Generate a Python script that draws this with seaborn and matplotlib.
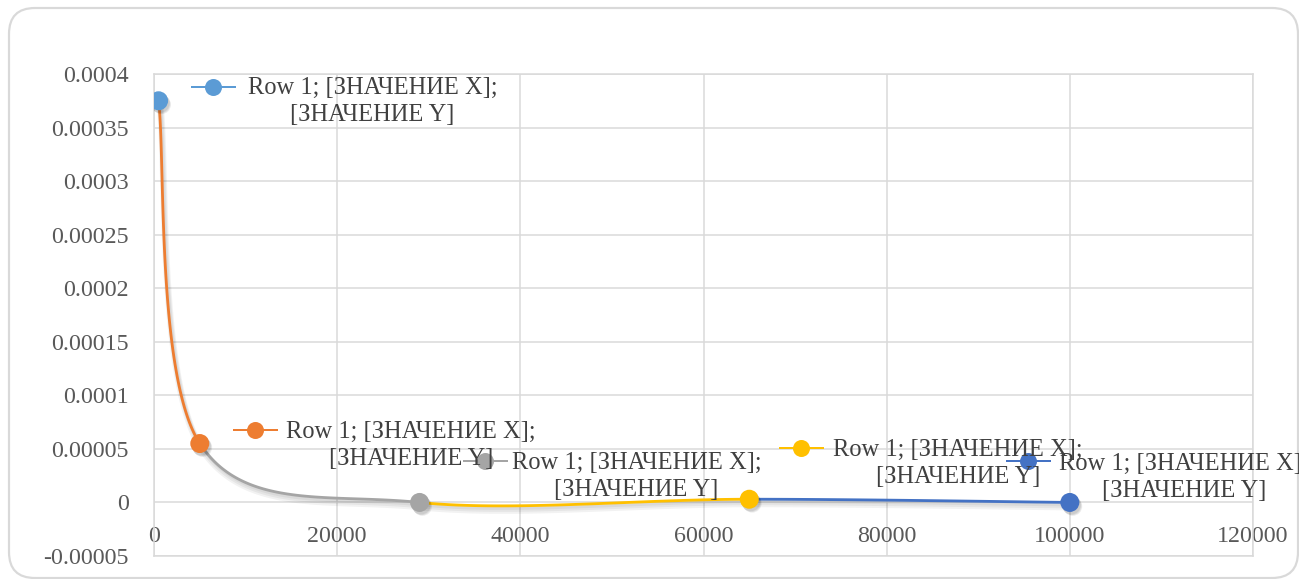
import numpy as np
import pandas as pd
import seaborn as sns
import matplotlib
matplotlib.use("Agg")
import matplotlib.pyplot as plt
import matplotlib.patheffects as pe
from matplotlib.patches import FancyBboxPatch
from matplotlib.transforms import IdentityTransform, offset_copy
from matplotlib.ticker import FuncFormatter

# ---- data -------------------------------------------------------------
x_values = [500, 5000, 29000, 65000, 100000]
y_values = [0.000375, 0.000055, 0.0, 0.000003, 0.0]
point_colors = ["#5B9BD5", "#ED7D31", "#A5A5A5", "#FFC000", "#4472C4"]
label_text = "Row 1; [ЗНАЧЕНИЕ X];\n[ЗНАЧЕНИЕ Y]"
x_ticks = [0, 20000, 40000, 60000, 80000, 100000, 120000]
y_ticks = [-0.00005, 0, 0.00005, 0.0001, 0.00015, 0.0002, 0.00025,
           0.0003, 0.00035, 0.0004]

# label layout: (text dx, text dy, key dx, key dy) in points from each point
label_layout = [
    (214, -1, 54, 14),
    (211, -1.5, 55, 14),
    (217, 26, 65, 41),
    (209, 36, 52, 51),
    (114, 25, -42, 41),
]

W, H, DPI = 1299, 579, 72
sns.set_theme(style="whitegrid")
plt.rcParams["font.family"] = ["Liberation Serif", "DejaVu Serif"]

fig = plt.figure(figsize=(W / DPI, H / DPI), dpi=DPI)
ax = fig.add_axes([154 / W, (H - 556) / H, (1253 - 154) / W, (556 - 74) / H])
ax.set_facecolor("white")

grid_c = "#D9D9D9"
text_c = "#595959"


def smooth_segment(p0, p1, p2, p3, n=80):
    """Cubic Bezier between p1 and p2 with Catmull-Rom style controls."""
    p0, p1, p2, p3 = map(np.asarray, (p0, p1, p2, p3))
    c1 = p1 + (p2 - p0) / 6.0
    c2 = p2 - (p3 - p1) / 6.0
    t = np.linspace(0, 1, n)[:, None]
    return ((1 - t) ** 3) * p1 + 3 * ((1 - t) ** 2) * t * c1 + \
        3 * (1 - t) * t ** 2 * c2 + t ** 3 * p2


# soft drop shadows built from a few faint offset layers
line_shadow = [pe.SimpleLineShadow(offset=(1.5, -2.5 - k), shadow_color="black",
                                   alpha=0.05, linewidth=3 + 2 * k)
               for k in range(3)] + [pe.Normal()]
marker_shadow = [pe.SimplePatchShadow(offset=(1.5 + 0.7 * k, -2.5 - 0.7 * k),
                                      alpha=0.07, shadow_rgbFace=(0, 0, 0))
                 for k in range(3)] + [pe.Normal()]

pts = list(zip(x_values, y_values))
for i in range(len(pts) - 1):
    p0 = pts[max(i - 1, 0)]
    p3 = pts[min(i + 2, len(pts) - 1)]
    seg = smooth_segment(p0, pts[i], pts[i + 1], p3)
    seg_df = pd.DataFrame({"x": seg[:, 0], "y": seg[:, 1]})
    sns.lineplot(data=seg_df, x="x", y="y", sort=False, estimator=None,
                 color=point_colors[i + 1], linewidth=2.8, ax=ax,
                 path_effects=line_shadow, zorder=3)

df = pd.DataFrame({"x": x_values, "y": y_values,
                   "pt": [f"p{i}" for i in range(len(x_values))]})
sns.scatterplot(data=df, x="x", y="y", hue="pt", palette=point_colors,
                s=19 ** 2, linewidth=0, legend=False, ax=ax, zorder=4)
for coll in ax.collections:
    coll.set_path_effects(marker_shadow)

# data labels with legend keys
for (x, y), col, (tdx, tdy, kdx, kdy) in zip(pts, point_colors, label_layout):
    ktr = offset_copy(ax.transData, fig=fig, x=kdx, y=kdy, units="points")
    ax.plot([x], [y], marker="_", markersize=45, markeredgewidth=2,
            color=col, transform=ktr, zorder=6, clip_on=False)
    ax.plot([x], [y], marker="o", markersize=17, markeredgewidth=0,
            color=col, transform=ktr, zorder=7, clip_on=False)
    ax.annotate(label_text, xy=(x, y), xytext=(tdx, tdy),
                textcoords="offset points", ha="center", va="center",
                multialignment="center", fontsize=24.5, color="#404040",
                linespacing=1.3, zorder=8, annotation_clip=False)

ax.set_xlim(0, 120000)
ax.set_ylim(-0.00005, 0.0004)
ax.set_xticks(x_ticks)
ax.set_yticks(y_ticks)
ax.xaxis.set_major_formatter(FuncFormatter(lambda v, p: f"{v:.0f}"))


def yfmt(v, p):
    s = f"{v:.5f}".rstrip("0").rstrip(".")
    return "0" if s in ("0", "-0") else s


ax.yaxis.set_major_formatter(FuncFormatter(yfmt))
ax.set_xlabel("")
ax.set_ylabel("")
ax.grid(True, color=grid_c, linewidth=1.5)
for sp in ax.spines.values():
    sp.set_color(grid_c)
    sp.set_linewidth(1.5)
ax.tick_params(axis="y", length=0, pad=25, labelsize=24, labelcolor=text_c)
ax.tick_params(axis="x", length=0, pad=-30, labelsize=24, labelcolor=text_c)

# rounded chart border
border = FancyBboxPatch((9, H - 578), 1298 - 9, 578 - 8,
                        boxstyle="round,pad=0,rounding_size=26",
                        transform=IdentityTransform(), facecolor="none",
                        edgecolor=grid_c, linewidth=2.2, zorder=0)
fig.add_artist(border)

fig.savefig("out.png", dpi=DPI, facecolor="white")
